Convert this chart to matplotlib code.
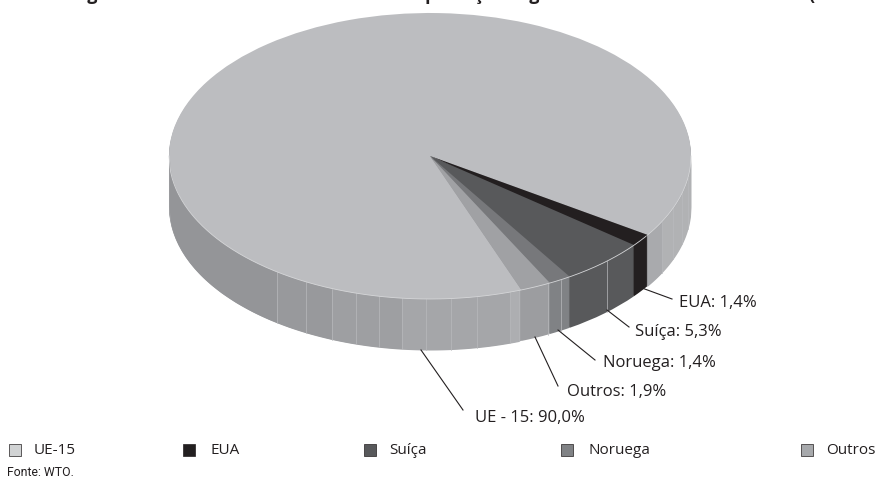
import matplotlib
matplotlib.use('Agg')
import matplotlib.pyplot as plt
import numpy as np

# Dados (%)
categorias = ['UE-15', 'EUA', 'Suíça', 'Noruega', 'Outros']
valores = [90.0, 1.4, 5.3, 1.4, 1.9]
rotulos = ['UE - 15: 90,0%', 'EUA: 1,4%', 'Suíça: 5,3%', 'Noruega: 1,4%', 'Outros: 1,9%']
cores_topo = ['#bcbdc0', '#231f20', '#58595b', '#77787b', '#a0a1a4']
cores_lado = ['#a2a3a6', '#231f20', '#58595b', '#808285', '#9c9da0']
cores_legenda = ['#d1d3d4', '#231f20', '#58595b', '#808285', '#a7a9ac']

# Geometria em pixels da imagem original
W, H = 880, 483
cx, cy = 430, 156
rx, ry = 261, 143
prof = 51

plt.rcParams['font.family'] = ['Open Sans', 'DejaVu Sans']

fig = plt.figure(figsize=(W / 100, H / 100), dpi=100)

# eixo do disco: raio 1 = (rx, ry) pixels
ax = fig.add_axes([(cx - rx) / W, 1 - (cy + ry + prof) / H, 2 * rx / W, (2 * ry + prof) / H])

# parede lateral: discos empilhados de baixo para cima
passo = 2 / (2 * ry)
for d in range(prof, 0, -1):
    ax.pie(valores, colors=cores_lado, startangle=-69.5, counterclock=False,
           center=(0, -d * passo), wedgeprops={'linewidth': 0})

# topo
ax.pie(valores, colors=cores_topo, startangle=-69.5, counterclock=False,
       wedgeprops={'linewidth': 0})
ax.set_aspect('auto')
ax.set_xlim(-1, 1)
ax.set_ylim(-1 - prof * passo, 1)
ax.axis('off')

# camada em pixels para linhas e textos
px = fig.add_axes([0, 0, 1, 1], facecolor='none')
px.set_xlim(0, W)
px.set_ylim(H, 0)
px.axis('off')


def borda(x):
    # borda frontal do topo na coordenada x
    return cy + ry * np.sqrt(np.clip(1 - ((x - cx) / rx) ** 2, 0, 1))


# faixas de sombra da parede
faixas = [(169, 277, '#949598'), (277, 332, '#98999c'), (332, 402, '#9e9fa2'), (402, 510, '#a5a6a9'),
          (510, 519, '#adaeb1'), (647, 662, '#a9aaad'), (662, 691, '#b1b2b4')]
for x0, x1, cor in faixas:
    xs = np.linspace(x0, x1, 60)
    px.fill_between(xs, borda(xs), borda(xs) + prof, color=cor, lw=0)

# facetas claras na parede
facetas = [277, 306, 332, 356, 379, 402, 426, 451, 477, 510, 519, 548, 561, 607, 662, 673, 682, 688]
for x in facetas:
    px.plot([x, x], [borda(x), borda(x) + prof], color='#b9babd', lw=0.5)

# filete claro na borda do topo
xs = np.linspace(169, 646, 300)
px.plot(xs, borda(xs), color='#d6d7d9', lw=0.6)
xs = np.linspace(647, 691, 60)
px.plot(xs, borda(xs), color='#d6d7d9', lw=0.6)

# linhas de chamada e rótulos
chamadas = {
    'EUA: 1,4%': ((642, 288), (672, 299), (679, 303)),
    'Suíça: 5,3%': ((607, 310), (629, 327), (635, 332)),
    'Noruega: 1,4%': ((558, 330), (595, 360), (603, 363)),
    'Outros: 1,9%': ((535, 337), (558, 386), (567, 392)),
    'UE - 15: 90,0%': ((421, 350), (463, 410), (475, 418)),
}
for r in rotulos:
    p0, p1, pt = chamadas[r]
    px.plot([p0[0], p1[0]], [p0[1], p1[1]], color='#231f20', lw=0.8)
    px.text(pt[0], pt[1], r, fontsize=12, color='#231f20', va='center', ha='left')

# legenda
leg_x = [9, 183, 364, 561, 801]
leg_tx = [34, 210, 389, 588, 826]
for c, cor, x, tx in zip(categorias, cores_legenda, leg_x, leg_tx):
    px.add_patch(plt.Rectangle((x, 444), 12, 12, facecolor=cor, edgecolor='#231f20', lw=0.5))
    px.text(tx, 450, c, fontsize=11, color='#231f20', va='center', ha='left')

px.text(7, 473, 'Fonte: WTO.', fontsize=8.8, color='#231f20', va='center', ha='left', family='Roboto')

# título cortado no topo da referência: só restam as descendentes, então as
# palavras abaixo são suposição feita a partir delas, não texto lido
px.text(72, 0, 'Figura', fontsize=13, fontweight='bold', color='#231f20', va='baseline')
px.text(402, 0, 'importações agrícolas', fontsize=13, fontweight='bold', color='#231f20', va='baseline')
px.text(808, 0, '(', fontsize=13, fontweight='bold', color='#231f20', va='baseline')

fig.savefig('out.png', dpi=100)
